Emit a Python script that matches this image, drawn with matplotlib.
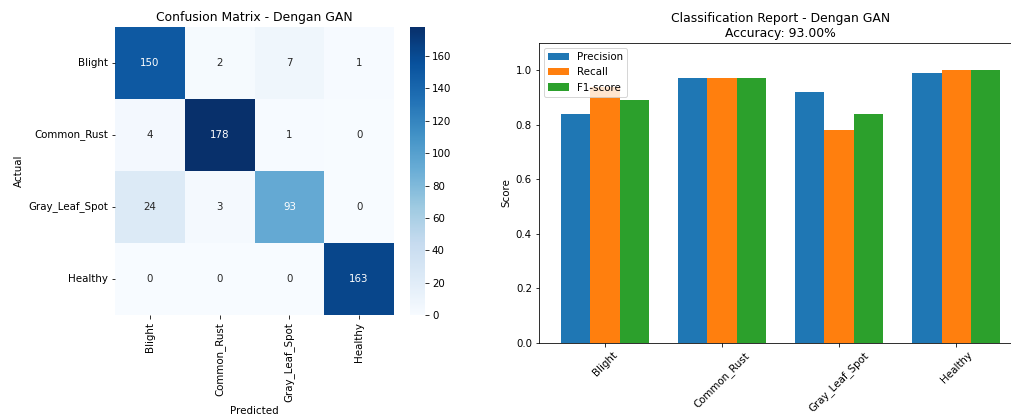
import numpy as np
import matplotlib
matplotlib.use('Agg')
import matplotlib.pyplot as plt
import seaborn as sns

# Data
classes = ['Blight', 'Common_Rust', 'Gray_Leaf_Spot', 'Healthy']
cm = np.array([
    [150, 2, 7, 1],
    [4, 178, 1, 0],
    [24, 3, 93, 0],
    [0, 0, 0, 163],
])
precision = [0.84, 0.97, 0.92, 0.99]
recall = [0.94, 0.97, 0.78, 1.00]
f1_score = [0.89, 0.97, 0.84, 1.00]
accuracy = 0.93

plt.rcParams['font.size'] = 10.3

W, H = 1011, 416
fig = plt.figure(figsize=(W / 72, H / 72), dpi=72)

# Confusion matrix
ax1 = fig.add_axes([115 / W, 1 - 315 / H, 279 / W, 288 / H])
cax = fig.add_axes([410 / W, 1 - 315 / H, 15 / W, 288 / H])
sns.heatmap(cm, annot=True, fmt='d', cmap='Blues', ax=ax1, cbar_ax=cax,
            xticklabels=classes, yticklabels=classes)
ax1.set_title('Confusion Matrix - Dengan GAN')
ax1.set_xlabel('Predicted')
ax1.set_ylabel('Actual')
plt.setp(ax1.get_xticklabels(), rotation=90)
plt.setp(ax1.get_yticklabels(), rotation=0)

# Classification report
ax2 = fig.add_axes([539 / W, 1 - 343 / H, 483 / W, 300 / H])
x = np.arange(len(classes))
width = 0.25
ax2.bar(x - width, precision, width, label='Precision')
ax2.bar(x, recall, width, label='Recall')
ax2.bar(x + width, f1_score, width, label='F1-score')
ax2.set_xticks(x)
ax2.set_xticklabels(classes, rotation=45)
ax2.set_ylim(0, 1.1)
ax2.set_ylabel('Score')
ax2.set_title('Classification Report - Dengan GAN\nAccuracy: {:.2f}%'.format(accuracy * 100))
ax2.legend(loc='upper left')

fig.savefig('out.png', dpi=72)
